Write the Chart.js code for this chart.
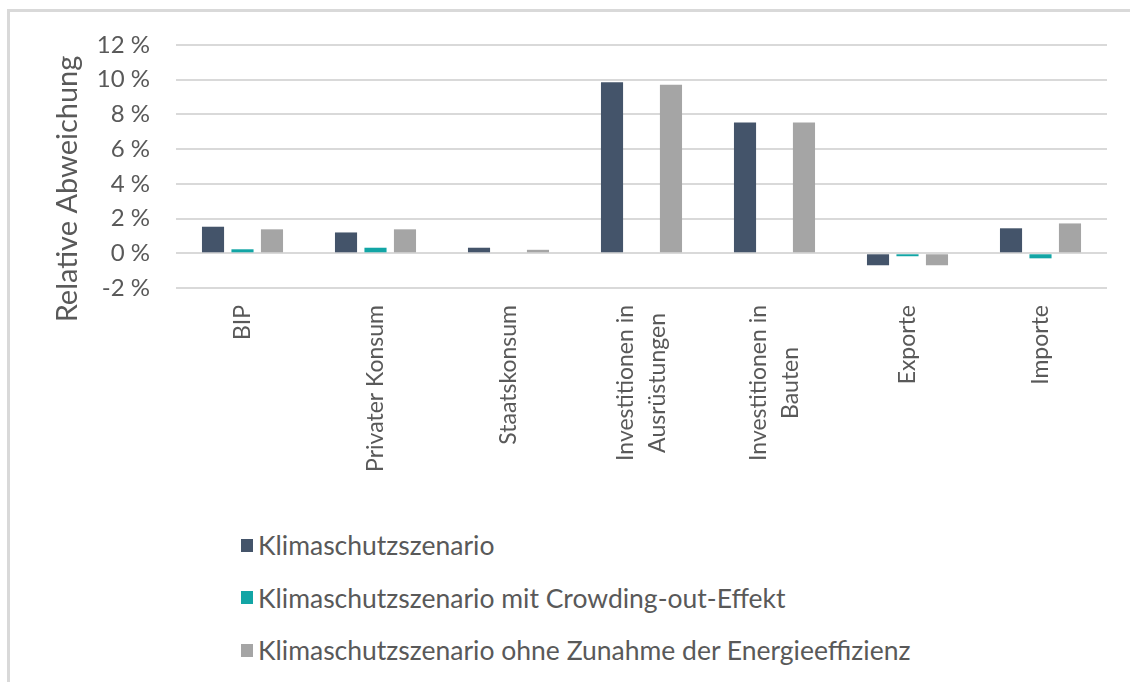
<!DOCTYPE html>
<html lang="de">
<head>
<meta charset="UTF-8">
<title>Relative Abweichung</title>
<script src="https://cdn.jsdelivr.net/npm/chart.js"></script>
<style>
  html, body { margin: 0; padding: 0; background: #fff; overflow: hidden; }
  body { width: 1130px; height: 682px; position: relative; font-family: Lato, 'Liberation Sans', sans-serif; color: #595959; }
  #frame { position: absolute; left: 7px; top: 9px; width: 1200px; height: 700px; border: 3px solid #d9d9d9; box-sizing: border-box; }
  #chart-box { position: absolute; left: 0; top: 0; width: 1130px; height: 500px; }
  #legend { position: absolute; left: 241px; top: 0; }
  .item { position: absolute; left: 0; display: flex; align-items: center; height: 34px; white-space: nowrap; font-size: 26.5px; }
  .swatch { display: inline-block; width: 12px; height: 13px; margin-right: 5px; }
</style>
</head>
<body>
<div id="frame"></div>
<div id="chart-box"><canvas id="chart" width="1130" height="500"></canvas></div>
<div id="legend"></div>

<script>
    // Kategorien (mehrzeilige Labels als Array)
    const categories = ['BIP', 'Privater Konsum', 'Staatskonsum',
        ['Investitionen in', 'Ausrüstungen'], ['Investitionen in', 'Bauten'], 'Exporte', 'Importe'];

    // Relative Abweichung in %
    const klimaschutz   = [1.53, 1.20, 0.32, 9.86, 7.53, -0.69, 1.44];
    const crowdingOut   = [0.23, 0.32, 0.00, 0.00, 0.00, -0.17, -0.29];
    const ohneEffizienz = [1.38, 1.38, 0.20, 9.71, 7.53, -0.69, 1.72];

    const seriesNames = ['Klimaschutzszenario',
        'Klimaschutzszenario mit Crowding-out-Effekt',
        'Klimaschutzszenario ohne Zunahme der Energieeffizienz'];

    const yTicks = [-2, 0, 2, 4, 6, 8, 10, 12];
    const yTitle = 'Relative Abweichung';

    const textColor = '#595959';
    const fontFamily = "Lato, 'Liberation Sans', sans-serif";
    const colors = ['#44546A', '#12A5A5', '#A5A5A5'];

    // x-Labels gedreht und zeilenweise zentriert, plus Achsentitel
    const labelPlugin = {
        id: 'rotatedLabels',
        afterDraw(chart) {
            const ctx = chart.ctx;
            const xs = chart.scales.x;
            const top = chart.chartArea.bottom + 17;
            ctx.save();
            ctx.fillStyle = textColor;
            ctx.textAlign = 'center';
            ctx.textBaseline = 'middle';
            ctx.font = '23px ' + fontFamily;
            const lh = 32;
            categories.forEach((cat, i) => {
                const lines = Array.isArray(cat) ? cat : [cat];
                const w = Math.max(...lines.map(l => ctx.measureText(l).width));
                ctx.save();
                ctx.translate(xs.getPixelForTick(i), top);
                ctx.rotate(-Math.PI / 2);
                lines.forEach((l, k) => ctx.fillText(l, -w / 2, (k - (lines.length - 1) / 2) * lh));
                ctx.restore();
            });
            ctx.font = '29px ' + fontFamily;
            ctx.translate(68, 189);
            ctx.rotate(-Math.PI / 2);
            ctx.fillText(yTitle, 0, 0);
            ctx.restore();
        }
    };

    const ctx = document.getElementById('chart').getContext('2d');
    const chart = new Chart(ctx, {
        type: 'bar',
        data: {
            labels: categories,
            datasets: [klimaschutz, crowdingOut, ohneEffizienz].map((d, i) => ({
                label: seriesNames[i],
                data: d,
                backgroundColor: colors[i],
                categoryPercentage: 0.665,
                barPercentage: 0.75
            }))
        },
        options: {
            responsive: false,
            animation: false,
            layout: { padding: { top: 45, right: 23, left: 0, bottom: 0 } },
            plugins: { legend: { display: false }, tooltip: { enabled: false } },
            scales: {
                x: {
                    grid: { display: false },
                    border: { display: false },
                    ticks: { display: false },
                    afterFit: s => { s.height = 212; }
                },
                y: {
                    min: -2,
                    max: 12,
                    afterBuildTicks: s => { s.ticks = yTicks.map(v => ({ value: v })); },
                    grid: { color: '#D9D9D9', lineWidth: 2, drawTicks: false },
                    border: { display: false },
                    ticks: {
                        padding: 26,
                        color: textColor,
                        font: { family: fontFamily, size: 24 },
                        callback: v => v + ' %'
                    },
                    afterFit: s => { s.width = 176; }
                }
            }
        },
        plugins: [labelPlugin]
    });

    // Legende untereinander
    const legendBox = document.getElementById('legend');
    chart.data.datasets.forEach((ds, i) => {
        const item = document.createElement('div');
        item.className = 'item';
        item.style.top = (545 + i * 52.5 - 17) + 'px';
        item.innerHTML = `<span class="swatch" style="background:${ds.backgroundColor}"></span><span>${ds.label}</span>`;
        legendBox.appendChild(item);
    });
</script>
</body>
</html>
